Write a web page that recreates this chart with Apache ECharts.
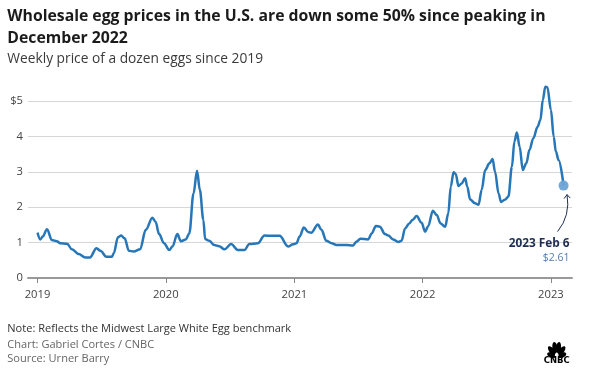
<!DOCTYPE html>
<html><head><meta charset="utf-8">
<script src="https://cdn.jsdelivr.net/npm/echarts@6/dist/echarts.min.js"></script>
<style>html,body{margin:0;padding:0;background:#fff}#c{width:589px;height:374px}</style>
</head><body><div id="c"></div>
<script>
const dates = [
'2019-01-01','2019-01-09','2019-01-16','2019-01-28','2019-02-11','2019-02-25','2019-03-07','2019-03-26','2019-04-09','2019-04-28',
'2019-05-17','2019-05-30','2019-06-18','2019-06-29','2019-07-16','2019-08-01','2019-08-06','2019-08-18','2019-08-27','2019-09-06',
'2019-09-18','2019-10-02','2019-10-20','2019-11-05','2019-11-24','2019-12-03','2019-12-13','2019-12-27','2020-01-11','2020-01-20',
'2020-02-03','2020-02-13','2020-02-27','2020-03-08','2020-03-20','2020-03-30','2020-04-07','2020-04-17','2020-04-22','2020-05-04',
'2020-05-18','2020-06-01','2020-06-16','2020-07-05','2020-07-24','2020-08-12','2020-08-26','2020-09-19','2020-10-08','2020-10-27',
'2020-11-20','2020-12-14','2020-12-28','2021-01-07','2021-01-16','2021-01-28','2021-02-09','2021-02-18','2021-03-09','2021-03-19',
'2021-04-02','2021-04-17','2021-05-01','2021-05-29','2021-06-17','2021-06-27','2021-07-08','2021-07-30','2021-08-09','2021-08-21',
'2021-09-01','2021-09-16','2021-09-25','2021-10-09','2021-10-24','2021-11-02','2021-11-12','2021-11-24','2021-12-03','2021-12-15',
'2021-12-29','2022-01-08','2022-01-17','2022-01-30','2022-02-10','2022-02-21','2022-03-06','2022-03-15','2022-03-22','2022-03-30',
'2022-04-05','2022-04-13','2022-04-22','2022-05-02','2022-05-08','2022-05-16','2022-05-30','2022-06-09','2022-06-18','2022-06-28',
'2022-07-10','2022-07-19','2022-07-26','2022-08-05','2022-08-12','2022-08-24','2022-09-02','2022-09-12','2022-09-19','2022-09-26',
'2022-10-04','2022-10-13','2022-10-23','2022-11-01','2022-11-12','2022-11-24','2022-12-02','2022-12-09','2022-12-16','2022-12-22',
'2023-01-01','2023-01-09','2023-01-15','2023-01-23','2023-02-06'
];
const prices = [
1.28,1.09,1.17,1.38,1.07,1.04,0.98,0.97,0.81,0.68,
0.58,0.58,0.84,0.77,0.60,0.60,0.70,1.15,1.20,1.12,
0.77,0.75,0.81,1.36,1.70,1.59,1.24,0.98,0.79,0.89,
1.24,1.04,1.09,1.26,2.39,3.03,2.49,1.64,1.10,1.05,
0.93,0.90,0.81,0.96,0.79,0.79,0.96,0.98,1.20,1.19,
1.19,0.89,0.95,0.98,1.17,1.43,1.30,1.28,1.51,1.36,
1.05,0.98,0.93,0.93,0.92,1.03,1.11,1.09,1.26,1.47,
1.45,1.24,1.20,1.09,1.02,1.05,1.40,1.54,1.64,1.75,
1.56,1.31,1.47,1.90,1.78,1.54,1.45,1.83,2.58,2.99,
2.94,2.60,2.67,2.82,2.58,2.22,2.11,2.07,2.49,3.05,
3.24,3.36,3.00,2.39,2.15,2.22,2.30,3.14,3.85,4.11,
3.71,3.05,3.24,3.62,3.95,4.27,4.46,5.03,5.40,5.39,
4.75,3.99,3.57,3.33,2.61
];
const yearTicks = ['2019-01-01','2020-01-01','2021-01-01','2022-01-01','2023-01-01'];
const yTicks = [0,1,2,3,4,5];
const lastLabel = '2023 Feb 6';
const lastPriceLabel = '$2.61';
const titleLines = ['Wholesale egg prices in the U.S. are down some 50% since peaking in','December 2022'];
const subtitleText = 'Weekly price of a dozen eggs since 2019';
const notes = ['Note: Reflects the Midwest Large White Egg benchmark','Chart: Gabriel Cortes / CNBC','Source: Urner Barry'];

const FONT = 'Open Sans';
const ctx = document.createElement('canvas').getContext('2d');
function fit(text, weight, target, family){
  ctx.font = weight+' 100px "'+(family||FONT)+'"';
  return 100*target/ctx.measureText(text).width;
}
const titleSize = fit(titleLines[0],'bold',539);
const subSize = fit(subtitleText,'normal',256);
const noteSize = fit(notes[0],'normal',284);
const tickSize = fit('2019','normal',25.7);
const annSize = fit(lastLabel,'bold',61);
const priceSize = fit(lastPriceLabel,'normal',26.7);
const logoSize = fit('CNBC','900',26,'DejaVu Sans');

const ts = d => Date.parse(d+'T00:00:00Z');
const chart = echarts.init(document.getElementById('c'), null, {renderer:'canvas'});
const seriesData = dates.map((d,i)=>[ts(d), prices[i]]);
const lastIdx = dates.length-1;
const yearTs = yearTicks.map(ts);

chart.setOption({
  animation:false,
  textStyle:{fontFamily:FONT},
  grid:{left:28,right:17,top:101,bottom:96,containLabel:false},
  xAxis:{
    type:'value',
    min:ts('2018-12-05'), max:ts('2023-03-02'),
    axisLine:{lineStyle:{color:'#999',width:2}},
    axisTick:{show:true,length:5,lineStyle:{color:'#888'},customValues:yearTs},
    axisLabel:{customValues:yearTs,formatter:v=>String(new Date(v).getUTCFullYear()),color:'#444',fontSize:tickSize,margin:11,fontFamily:FONT},
    splitLine:{show:false}
  },
  yAxis:{
    type:'value',min:0,max:5,interval:1,
    axisLine:{show:false},axisTick:{show:false},
    axisLabel:{formatter:v=>v===yTicks[yTicks.length-1]?'$'+v:String(v),color:'#444',fontSize:tickSize,margin:5,fontFamily:FONT},
    splitLine:{lineStyle:{color:'#d6d6d6',width:1}}
  },
  series:[
    {type:'line',data:seriesData,smooth:0.35,smoothMonotone:'x',showSymbol:false,clip:false,
     lineStyle:{color:'#2676b8',width:2.5},z:3},
    {type:'scatter',data:[seriesData[lastIdx]],symbolSize:10,clip:false,
     itemStyle:{color:'#6da4d6',opacity:0.95},z:4}
  ]
});

const p = chart.convertToPixel({gridIndex:0},seriesData[lastIdx]);
const px=p[0], py=p[1];
const navy='#1d2e52';
const tipX=px+3.5, tipY=py+9;
const feathers = [];
const cx=556.7, cy=357;
[[160,5.5,4.6],[128,7.2,6.2],[100,8.3,7.0],[80,8.3,7.0],[52,7.2,6.2],[20,5.5,4.6]].forEach(f=>{
  const r=f[0]*Math.PI/180, d=f[1];
  feathers.push({type:'ellipse',x:cx+Math.cos(r)*d,y:cy-Math.sin(r)*d,rotation:r,shape:{cx:0,cy:0,rx:f[2],ry:2.7},style:{fill:'#000'}});
});
feathers.push({type:'ellipse',shape:{cx:cx,cy:cy-1.5,rx:1.8,ry:3},style:{fill:'#fff'},z:101});
chart.setOption({graphic:[
  {type:'text',x:7.3,y:16.3,style:{text:titleLines[0],verticalAlign:'middle',font:'bold '+titleSize+'px "'+FONT+'"',fill:'#1b1b1b'}},
  {type:'text',x:7.3,y:38,style:{text:titleLines[1],verticalAlign:'middle',font:'bold '+titleSize+'px "'+FONT+'"',fill:'#1b1b1b'}},
  {type:'text',x:7.3,y:59.2,style:{text:subtitleText,verticalAlign:'middle',font:subSize+'px "'+FONT+'"',fill:'#3a3a3a'}},
  {type:'bezierCurve',shape:{x1:px-6,y1:py+46,x2:tipX,y2:tipY,cpx1:px+7,cpy1:py+30},style:{stroke:navy,lineWidth:1,fill:null}},
  {type:'polyline',shape:{points:[[tipX-3,tipY+4],[tipX,tipY],[tipX+3.2,tipY+3.5]]},style:{stroke:navy,lineWidth:1,fill:null}},
  {type:'text',x:px+6,y:py+58,style:{text:lastLabel,align:'right',verticalAlign:'middle',font:'bold '+annSize+'px "'+FONT+'"',fill:navy}},
  {type:'text',x:px+6,y:py+72,style:{text:lastPriceLabel,align:'right',verticalAlign:'middle',font:priceSize+'px "'+FONT+'"',fill:'#4f7cab'}},
  {type:'text',x:7.3,y:329,style:{text:notes[0],verticalAlign:'middle',font:noteSize+'px "'+FONT+'"',fill:'#333'}},
  {type:'text',x:7.3,y:344.7,style:{text:notes[1],verticalAlign:'middle',font:noteSize+'px "'+FONT+'"',fill:'#666'}},
  {type:'text',x:7.3,y:358.5,style:{text:notes[2],verticalAlign:'middle',font:noteSize+'px "'+FONT+'"',fill:'#666'}},
  {type:'group',children:feathers.concat([
    {type:'text',x:556.7,y:361,z:102,style:{text:'CNBC',align:'center',verticalAlign:'middle',font:'900 '+logoSize+'px "DejaVu Sans"',fill:'#000'}}
  ])}
]});
</script></body></html>
